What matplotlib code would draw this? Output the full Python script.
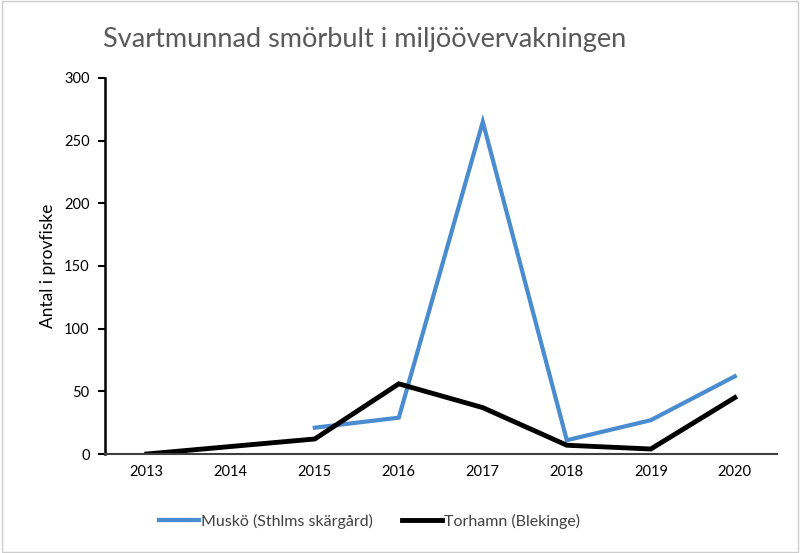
import matplotlib
matplotlib.use("Agg")
import matplotlib.pyplot as plt
import numpy as np

years = ["2013", "2014", "2015", "2016", "2017", "2018", "2019", "2020"]
musko = [np.nan, np.nan, 21, 29, 265, 11, 27, 62]
torhamn = [0, 6, 12, 56, 37, 7, 4, 45]
yticks = [0, 50, 100, 150, 200, 250, 300]

plt.rcParams['font.family'] = ['Lato', 'DejaVu Sans']

fig = plt.figure(figsize=(8, 5.53), dpi=100)
ax = fig.add_axes([0.131, 0.179, 0.84, 0.680])

x = np.arange(len(years))
ax.plot(x, musko, color="#4a8cd0", lw=3, label="Muskö (Sthlms skärgård)", solid_joinstyle="miter")
ax.plot(x, torhamn, color="black", lw=3.5, label="Torhamn (Blekinge)", solid_joinstyle="miter")

ax.set_xlim(-0.5, len(years) - 0.5)
ax.set_ylim(0, 300)
ax.set_xticks(x)
ax.set_xticklabels(years)
ax.set_yticks(yticks)
ax.tick_params(axis="x", length=0, labelsize=10.5, pad=8, colors="#000000")
ax.tick_params(axis="y", length=5, width=1.5, labelsize=10.5, direction="out", pad=6)
for s in ["top", "right"]:
    ax.spines[s].set_visible(False)
ax.spines["left"].set_linewidth(1.8)
ax.spines["left"].set_color("black")
ax.spines["bottom"].set_linewidth(1.5)
ax.spines["bottom"].set_color("#404040")

ax.set_ylabel("Antal i provfiske", fontsize=12.5, labelpad=6)
fig.text(0.129, 0.928, "Svartmunnad smörbult i miljöövervakningen", fontsize=19.5,
         color="#595959", ha="left", va="center", family=['Lato', 'DejaVu Sans'])

leg = fig.legend(loc="center", bbox_to_anchor=(0.462, 0.057), ncol=2, frameon=False,
                 fontsize=11.5, handlelength=2.5, columnspacing=1.8, handletextpad=0.15)
for t in leg.get_texts():
    t.set_color("#404040")

fig.patches.append(plt.Rectangle((0.002, 0.002), 0.996, 0.996, transform=fig.transFigure,
                                 fill=False, edgecolor="#cccccc", lw=1))

fig.savefig("out.png", dpi=100)
